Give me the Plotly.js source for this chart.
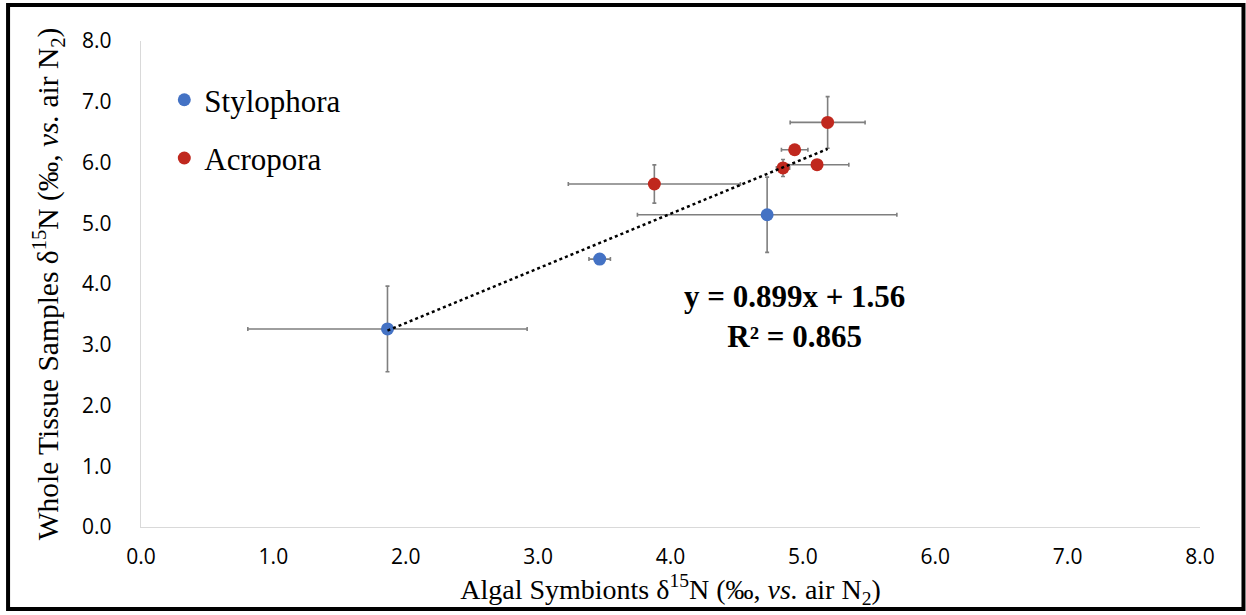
<!DOCTYPE html>
<html>
<head>
<meta charset="utf-8">
<script src="https://cdn.plot.ly/plotly-3.0.1.min.js"></script>
<style>html,body{margin:0;padding:0;background:#fff;}#chart{width:1246px;height:615px;}</style>
</head>
<body>
<div id="chart"></div>
<script>
// Data
const stylophoraX = [1.862, 3.465, 4.73];
const stylophoraY = [3.26, 4.41, 5.14];
const stylophoraXErr = [1.055, 0.081, 0.98];
const stylophoraYErr = [0.705, 0.03, 0.62];

const acroporaX = [3.878, 4.85, 5.107, 4.938, 5.187];
const acroporaY = [5.646, 5.91, 5.964, 6.21, 6.66];
const acroporaXErr = [0.65, 0.05, 0.24, 0.10, 0.283];
const acroporaYErr = [0.315, 0.14, 0.03, 0.03, 0.425];

const trendSlope = 0.899;
const trendIntercept = 1.56;
const trendR2 = 0.865;

const tickVals = [0, 1, 2, 3, 4, 5, 6, 7, 8];
const tickText = ["0.0", "1.0", "2.0", "3.0", "4.0", "5.0", "6.0", "7.0", "8.0"];

const allX = stylophoraX.concat(acroporaX);
const xMin = Math.min(...allX), xMax = Math.max(...allX);
const trendX = [xMin, xMax];
const trendY = trendX.map(v => trendSlope * v + trendIntercept);

const errStyle = {color: '#7f7f7f', thickness: 1.6, width: 2};

const traces = [
  {
    name: 'Stylophora', x: stylophoraX, y: stylophoraY, type: 'scatter', mode: 'markers',
    marker: {color: '#4472C4', size: 13},
    error_x: Object.assign({type: 'data', array: stylophoraXErr, visible: true}, errStyle),
    error_y: Object.assign({type: 'data', array: stylophoraYErr, visible: true}, errStyle),
    legendgroup: 'a'
  },
  {
    name: 'Acropora', x: acroporaX, y: acroporaY, type: 'scatter', mode: 'markers',
    marker: {color: '#C0281E', size: 13},
    error_x: Object.assign({type: 'data', array: acroporaXErr, visible: true}, errStyle),
    error_y: Object.assign({type: 'data', array: acroporaYErr, visible: true}, errStyle),
    legendgroup: 'b'
  },
  {
    name: 'trend', x: trendX, y: trendY, type: 'scatter', mode: 'lines',
    line: {color: '#000000', width: 2.5, dash: 'dot'}, showlegend: false
  }
];

const serif = 'Liberation Serif, Times New Roman, serif';
const layout = {
  width: 1246, height: 615,
  margin: {l: 140.5, r: 46, t: 41, b: 88},
  paper_bgcolor: '#ffffff', plot_bgcolor: '#ffffff',
  showlegend: true,
  legend: {
    x: 0.022, y: 0.934, xanchor: 'left', yanchor: 'top',
    font: {family: serif, size: 31, color: '#000'},
    bgcolor: 'rgba(0,0,0,0)', tracegroupgap: 15, traceorder: 'grouped'
  },
  xaxis: {
    range: [0, 8], tickvals: tickVals, ticktext: tickText, showgrid: false, zeroline: false,
    showline: true, linecolor: '#d9d9d9', linewidth: 1.2, ticks: '',
    tickfont: {family: 'Open Sans, sans-serif', size: 21, color: '#000'},
    ticklabelstandoff: 11,
    title: {text: 'Algal Symbionts δ<sup>15</sup>N (‰, <i>vs.</i> air N<sub>2</sub>)',
            font: {family: serif, size: 28, color: '#000'}, standoff: 2}
  },
  yaxis: {
    range: [0, 8], tickvals: tickVals, ticktext: tickText, showgrid: false, zeroline: false,
    showline: true, linecolor: '#d9d9d9', linewidth: 1.2, ticks: '',
    tickfont: {family: 'Open Sans, sans-serif', size: 21, color: '#000'},
    ticklabelstandoff: 24,
    title: {text: 'Whole Tissue Samples δ<sup>15</sup>N (‰, <i>vs.</i> air N<sub>2</sub>)',
            font: {family: serif, size: 29.5, color: '#000'}, standoff: 14}
  },
  annotations: [
    {xref: 'x', yref: 'y', x: 4.936, y: 3.46, showarrow: false, align: 'center',
     text: '<b>y = ' + trendSlope + 'x + ' + trendIntercept + '</b><br><b>R² = ' + trendR2 + '</b>',
     font: {family: serif, size: 31, color: '#000'}}
  ],
  shapes: [
    {type: 'rect', xref: 'paper', yref: 'paper',
     x0: (7.5 - 140.5) / 1059.5, x1: (1243.5 - 140.5) / 1059.5,
     y0: (527 - 609) / 486, y1: (527 - 5) / 486,
     line: {color: '#000', width: 4}, fillcolor: 'rgba(0,0,0,0)', layer: 'below'}
  ]
};

Plotly.newPlot('chart', traces, layout, {displayModeBar: false, staticPlot: true});
</script>
</body>
</html>
